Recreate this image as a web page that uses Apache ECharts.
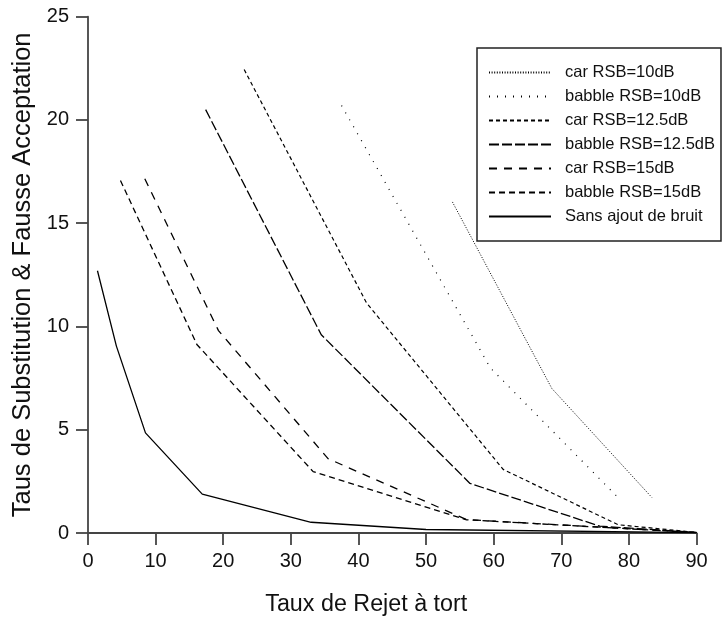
<!DOCTYPE html>
<html>
<head>
<meta charset="utf-8">
<script src="https://cdn.jsdelivr.net/npm/echarts@6/dist/echarts.min.js"></script>
<style>
  html, body { margin: 0; padding: 0; background: #fff; }
  #chart { width: 728px; height: 621px; }
</style>
</head>
<body>
<div id="chart"></div>
<script>
// ---- data ----
var seriesNames = [
  'car RSB=10dB',
  'babble RSB=10dB',
  'car RSB=12.5dB',
  'babble RSB=12.5dB',
  'car RSB=15dB',
  'babble RSB=15dB',
  'Sans ajout de bruit'
];
var car10X = [53.9, 68.6, 83.4];
var car10Y = [16.03, 7.0, 1.72];
var babble10X = [37.5, 59.5, 78.5];
var babble10Y = [20.7, 8.0, 1.68];
var car125X = [23.1, 41.2, 61.4, 78.4, 90];
var car125Y = [22.44, 11.14, 3.08, 0.40, 0.03];
var babble125X = [17.4, 34.5, 56.5, 75.7, 90];
var babble125Y = [20.5, 9.6, 2.4, 0.33, 0.03];
var car15X = [8.4, 19.3, 35.5, 56.0, 90];
var car15Y = [17.15, 9.8, 3.6, 0.65, 0.02];
var babble15X = [4.8, 16.1, 33.3, 56.0, 90];
var babble15Y = [17.07, 9.13, 2.97, 0.64, 0.02];
var cleanX = [1.4, 4.2, 8.5, 16.9, 33.0, 50.0, 90];
var cleanY = [12.7, 9.05, 4.85, 1.88, 0.52, 0.17, 0.02];

var xTitle = 'Taux de Rejet à tort';
var yTitle = 'Taus de Substitution & Fausse Acceptation';

// ---- styling ----
var dashes = [[1, 1.6], [1, 7], [4, 3], [10, 3], [8, 7], [6, 4], 'solid'];
var widths = [1, 1.2, 1.2, 1.3, 1.3, 1.3, 1.3];
var xs = [car10X, babble10X, car125X, babble125X, car15X, babble15X, cleanX];
var ys = [car10Y, babble10Y, car125Y, babble125Y, car15Y, babble15Y, cleanY];

function pairs(x, y) {
  var out = [];
  for (var i = 0; i < x.length; i++) out.push([x[i], y[i]]);
  return out;
}

var FONT = 'Liberation Sans';
var series = seriesNames.map(function (n, i) {
  return {
    name: n,
    type: 'line',
    data: pairs(xs[i], ys[i]),
    symbol: 'none',
    showSymbol: false,
    animation: false,
    lineStyle: { color: '#000', width: widths[i], type: dashes[i] },
    itemStyle: { color: '#000' },
    emphasis: { disabled: true }
  };
});

var axisLineStyle = { color: '#444', width: 1.8 };
var chart = echarts.init(document.getElementById('chart'), null, { renderer: 'canvas' });
chart.setOption({
  backgroundColor: '#fff',
  animation: false,
  grid: { left: 88, right: 31.5, top: 16.7, bottom: 84.3 },
  xAxis: {
    type: 'value', min: 0, max: 90, interval: 10,
    name: xTitle, nameLocation: 'middle', nameGap: 60,
    nameTextStyle: { fontFamily: FONT, fontSize: 23.3, color: '#111', padding: [0, 52, 0, 0] },
    axisLine: { show: true, lineStyle: axisLineStyle },
    axisTick: { show: true, length: 12, inside: false, lineStyle: axisLineStyle },
    axisLabel: { fontFamily: FONT, fontSize: 20, color: '#111', margin: 18 },
    splitLine: { show: false }
  },
  yAxis: {
    type: 'value', min: 0, max: 25, interval: 5,
    name: yTitle, nameLocation: 'middle', nameGap: 50, nameRotate: 90,
    nameTextStyle: { fontFamily: FONT, fontSize: 25.5, color: '#111' },
    axisLine: { show: true, lineStyle: axisLineStyle },
    axisTick: { show: true, length: 12, inside: false, lineStyle: axisLineStyle },
    axisLabel: { fontFamily: FONT, fontSize: 20, color: '#111', margin: 19 },
    splitLine: { show: false }
  },
  legend: {
    data: seriesNames,
    orient: 'vertical',
    left: 477, top: 48,
    padding: [16, 6, 16, 11],
    itemWidth: 62, itemHeight: 14, itemGap: 7,
    selectedMode: false,
    backgroundColor: '#fff',
    borderColor: '#222', borderWidth: 1.5, borderRadius: 0,
    itemStyle: { opacity: 0, color: 'rgba(0,0,0,0)', borderWidth: 0 },
    textStyle: { fontFamily: FONT, fontSize: 16.5, color: '#111', padding: [0, 0, 0, 9] }
  },
  series: series
});
</script>
</body>
</html>
